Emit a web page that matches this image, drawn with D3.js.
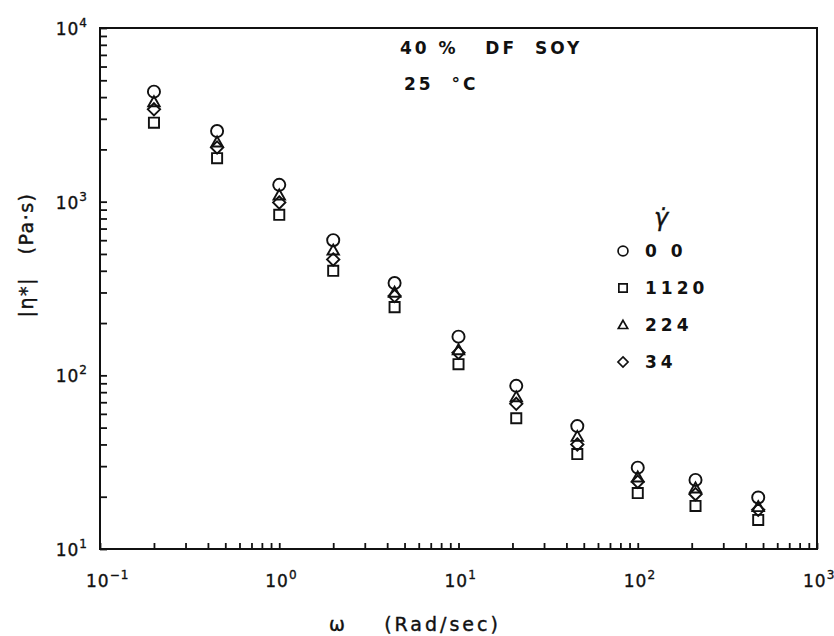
<!DOCTYPE html>
<html>
<head>
<meta charset="utf-8">
<script src="https://cdn.jsdelivr.net/npm/d3@7/dist/d3.min.js"></script>
<style>
  html, body { margin: 0; padding: 0; background: #fff; }
  svg { display: block; }
  text { font-family: "DejaVu Sans", "Liberation Sans", sans-serif; fill: #111; }
</style>
</head>
<body>
<svg id="chart" width="834" height="636"></svg>
<script>
// Angular frequency (rad/s)
const omega = [0.2, 0.45, 1, 2, 4.4, 10, 21, 46, 100, 210, 470];

// |η*| (Pa·s) for each pre-shear rate series
const eta00   = [4300, 2550, 1250, 600, 340, 167, 87, 51, 29.4, 25, 19.8];
const eta1120 = [2850, 1780, 840, 400, 247, 116, 56.6, 35.2, 21, 17.7, 14.7];
const eta224  = [3750, 2200, 1090, 525, 300, 140, 75, 44.4, 25.9, 22.4, 17.5];
const eta34   = [3400, 2050, 990, 465, 286, 135, 68.5, 40, 24.4, 20.7, 16.8];

const seriesLabels = ["0 0", "1120", "224", "34"];
const seriesShapes = ["circle", "square", "triangle", "diamond"];

const xTickExps = [-1, 0, 1, 2, 3];
const yTickExps = [1, 2, 3, 4];

const svg = d3.select("#chart");
const ink = "#111";

const plot = { left: 100, right: 817, top: 28, bottom: 549 };

const x = d3.scaleLog().domain([0.1, 1000]).range([plot.left, plot.right]);
const y = d3.scaleLog().domain([10, 10000]).range([plot.bottom, plot.top]);

// Marker path generators centred on (0,0)
function shapePath(kind, s) {
  switch (kind) {
    case "circle": {
      const r = s * 0.55;
      return `M${r},0A${r},${r} 0 1,1 ${-r},0A${r},${r} 0 1,1 ${r},0Z`;
    }
    case "square": {
      const h = s * 0.46;
      return `M${-h},${-h}H${h}V${h}H${-h}Z`;
    }
    case "triangle": {
      const h = s * 0.52;
      return `M0,${-h * 1.0}L${h},${h * 0.75}L${-h},${h * 0.75}Z`;
    }
    case "diamond": {
      const h = s * 0.56;
      return `M0,${-h}L${h},0L0,${h}L${-h},0Z`;
    }
  }
}

// Axes: ticks point inward, labels drawn separately with superscripts
const yAxis = d3.axisRight(y).tickValues(
  d3.range(1, 4).flatMap(e => d3.range(1, 10).map(m => m * Math.pow(10, e))).concat([10000])
).tickSize(7).tickFormat("");
const xAxis = d3.axisTop(x).tickValues(
  d3.range(-1, 3).flatMap(e => d3.range(1, 10).map(m => m * Math.pow(10, e))).concat([1000])
).tickSize(6).tickFormat("");

svg.append("g").attr("transform", `translate(${plot.left},0)`).call(yAxis)
  .call(g => g.select(".domain").remove())
  .call(g => g.selectAll("line").attr("stroke", ink).attr("stroke-width", 1.8));
svg.append("g").attr("transform", `translate(0,${plot.bottom})`).call(xAxis)
  .call(g => g.select(".domain").remove())
  .call(g => g.selectAll("line").attr("stroke", ink).attr("stroke-width", 1.8));

// Frame
svg.append("rect")
  .attr("x", plot.left).attr("y", plot.top)
  .attr("width", plot.right - plot.left).attr("height", plot.bottom - plot.top)
  .attr("fill", "none").attr("stroke", ink).attr("stroke-width", 2);

// Power-of-ten tick labels
function powLabel(g, exp, px, py, anchor) {
  const t = g.append("text").attr("x", px).attr("y", py)
    .attr("text-anchor", anchor).attr("font-size", 17).attr("letter-spacing", 1)
    .attr("stroke", ink).attr("stroke-width", 0.35);
  t.append("tspan").text("10");
  t.append("tspan").attr("dy", -8).attr("font-size", 12).text(exp < 0 ? "\u2212" + (-exp) : String(exp));
}
const labels = svg.append("g");
xTickExps.forEach(e => powLabel(labels, e, x(Math.pow(10, e)) - 14, 587, "start"));
yTickExps.forEach(e => powLabel(labels, e, 88, y(Math.pow(10, e)) + 7, "end"));

// Axis titles
svg.append("text")
  .attr("transform", `translate(33,255) rotate(-90)`)
  .attr("text-anchor", "middle").attr("font-size", 19).attr("letter-spacing", 1.5)
  .attr("stroke", ink).attr("stroke-width", 0.4)
  .attr("xml:space", "preserve")
  .text("|\u03B7*|   (Pa\u00B7s)");
svg.append("text")
  .attr("x", 415).attr("y", 631)
  .attr("text-anchor", "middle").attr("font-size", 19).attr("letter-spacing", 3)
  .attr("stroke", ink).attr("stroke-width", 0.4)
  .attr("xml:space", "preserve")
  .text("\u03C9    (Rad/sec)");

// Annotation
svg.append("text").attr("x", 400).attr("y", 54)
  .attr("font-size", 17).attr("font-weight", "bold").attr("letter-spacing", 3)
  .attr("xml:space", "preserve").text("40 %   DF  SOY");
svg.append("text").attr("x", 404).attr("y", 90)
  .attr("font-size", 17).attr("font-weight", "bold").attr("letter-spacing", 3)
  .attr("xml:space", "preserve").text("25  \u00B0C");

// Data markers
const series = [eta00, eta1120, eta224, eta34];
series.forEach((vals, i) => {
  svg.append("g").selectAll("path")
    .data(vals.map((v, j) => ({ w: omega[j], v })))
    .join("path")
    .attr("transform", d => `translate(${x(d.w)},${y(d.v)})`)
    .attr("d", shapePath(seriesShapes[i], 11))
    .attr("fill", "none").attr("stroke", ink).attr("stroke-width", 1.9);
});

// Legend
const legend = svg.append("g");
legend.append("text").attr("x", 654).attr("y", 226)
  .attr("font-size", 24).attr("font-style", "italic")
  .attr("stroke", ink).attr("stroke-width", 0.4).text("\u03B3\u0307");
seriesLabels.forEach((lab, i) => {
  const cy = 251 + i * 37;
  legend.append("path")
    .attr("transform", `translate(623,${cy})`)
    .attr("d", shapePath(seriesShapes[i], 9))
    .attr("fill", "none").attr("stroke", ink).attr("stroke-width", 1.7);
  legend.append("text").attr("x", 645).attr("y", cy + 6)
    .attr("font-size", 17).attr("font-weight", "bold").attr("letter-spacing", 4)
    .attr("xml:space", "preserve").text(lab);
});
</script>
</body>
</html>
